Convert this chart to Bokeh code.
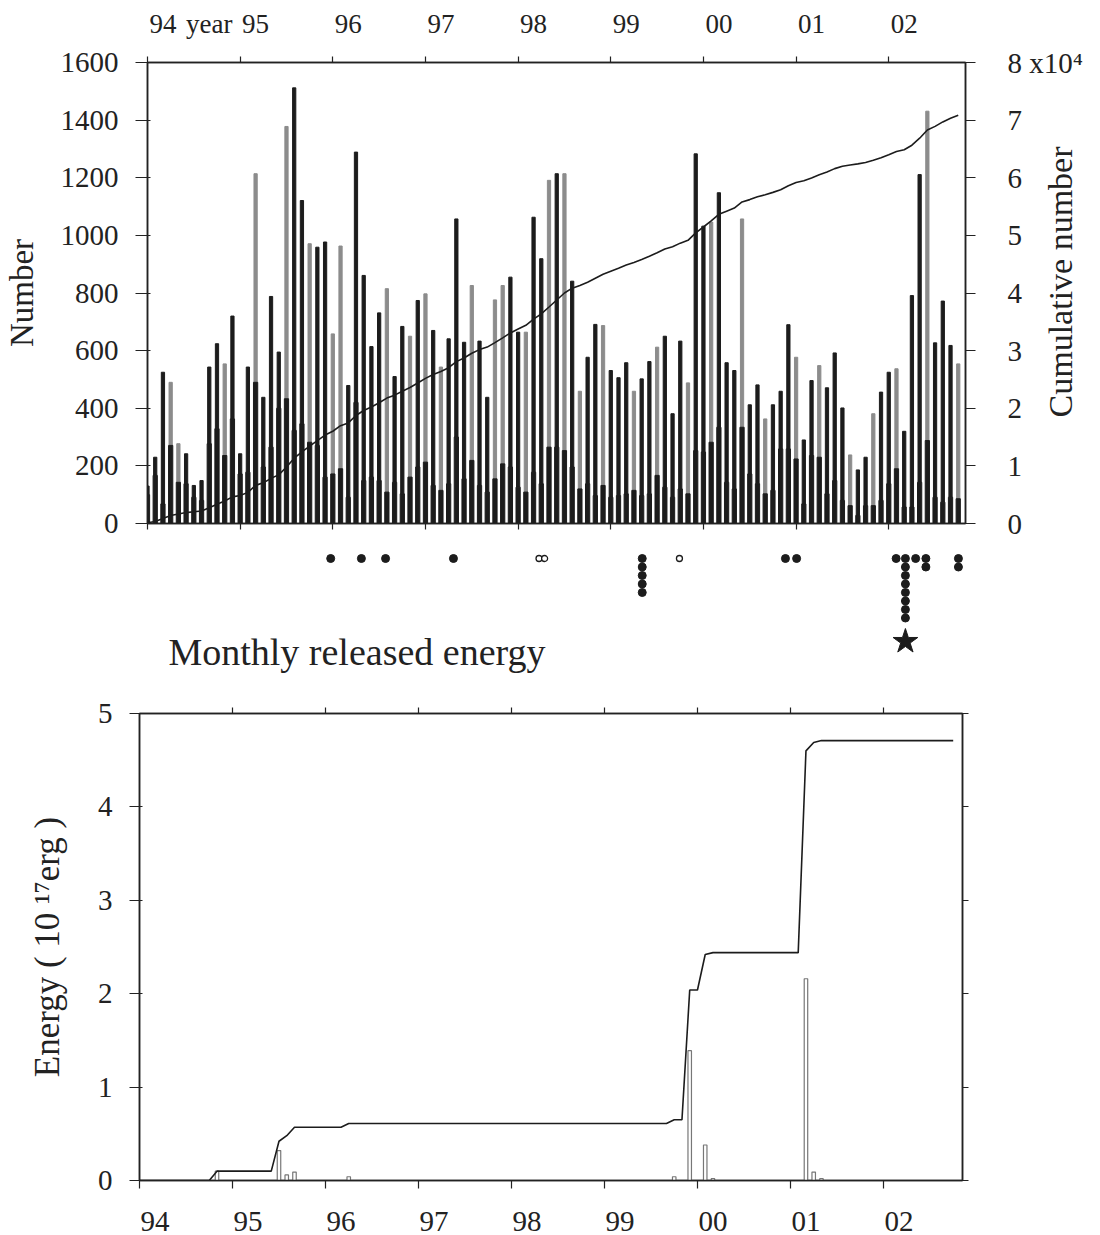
import numpy as np
from bokeh.plotting import figure
from bokeh.models import Range1d, LinearAxis, FixedTicker, ColumnDataSource
from bokeh.embed import file_html
from bokeh.resources import INLINE
from bokeh.core.properties import value

FONT = "Liberation Serif"

# ---------------- data ----------------
start_year = 1994
year_labels = ["94", "95", "96", "97", "98", "99", "00", "01", "02"]

# monthly number of events, Jan 1994 .. Oct 2002
monthly_total = [
    130, 230, 525, 490, 277, 242, 132, 149, 543, 624, 554, 720,
    242, 543, 1214, 438, 788, 595, 1378, 1512, 1121, 971, 959, 977,
    658, 963, 479, 1289, 861, 614, 731, 815, 510, 684, 650, 774,
    797, 670, 543, 641, 1057, 629, 826, 633, 438, 776, 826, 855,
    664, 664, 1063, 919, 1191, 1214, 1214, 841, 459, 577, 691, 687,
    531, 506, 558, 459, 502, 562, 612, 650, 381, 633, 488, 1283,
    1032, 1046, 1148, 558, 531, 1057, 412, 481, 363, 412, 459, 690,
    577, 290, 496, 548, 471, 592, 401, 238, 186, 230, 381, 456,
    525, 537, 320, 791, 1211, 1431, 627, 772, 618, 554,
]
# lower (dark) part of each monthly bar
monthly_low = [
    100, 167, 68, 271, 143, 138, 91, 80, 277, 329, 236, 363,
    172, 178, 490, 196, 265, 400, 433, 323, 346, 282, 271, 161,
    172, 190, 91, 420, 149, 161, 149, 109, 143, 103, 161, 196,
    213, 132, 115, 138, 300, 155, 219, 132, 109, 155, 207, 196,
    126, 109, 178, 138, 265, 265, 253, 196, 120, 138, 97, 132,
    91, 97, 103, 115, 97, 103, 167, 126, 91, 120, 103, 253,
    248, 282, 334, 143, 120, 334, 172, 138, 103, 115, 259, 259,
    224, 68, 236, 230, 103, 149, 80, 62, 28, 62, 62, 80,
    138, 190, 57, 57, 143, 288, 91, 74, 91, 86,
]
# 1 = upper part of the bar printed grey, 0 = black
upper_grey = [
    0, 0, 0, 1, 1, 0, 0, 0, 0, 0, 1, 0,
    0, 0, 1, 0, 0, 0, 1, 0, 0, 1, 0, 0,
    1, 1, 0, 0, 0, 0, 0, 1, 0, 0, 1, 0,
    1, 0, 1, 0, 0, 0, 1, 0, 0, 1, 1, 0,
    0, 1, 0, 0, 1, 0, 1, 0, 1, 0, 0, 1,
    0, 0, 0, 1, 0, 0, 1, 0, 0, 0, 1, 0,
    0, 1, 0, 0, 0, 1, 0, 0, 1, 0, 0, 0,
    1, 0, 0, 1, 0, 0, 0, 1, 0, 0, 1, 0,
    0, 1, 0, 0, 0, 1, 0, 0, 0, 1,
]
# monthly released energy (10^17 erg)
monthly_energy = [0.0] * 106
for m, e in {10: 0.10, 18: 0.32, 19: 0.06, 20: 0.09, 27: 0.04, 69: 0.04,
             71: 1.39, 73: 0.38, 74: 0.02, 86: 2.16, 87: 0.09, 88: 0.02}.items():
    monthly_energy[m] = e

# larger events marked below the upper panel (decimal year, count, filled)
event_year = [1995.97, 1996.30, 1996.56, 1997.29, 1998.21, 1998.27, 1999.32, 1999.72,
              2000.86, 2000.98, 2002.05, 2002.15, 2002.26, 2002.37, 2002.72]
event_count = [1, 1, 1, 1, 1, 1, 5, 1, 1, 1, 1, 8, 1, 2, 2]
event_filled = [1, 1, 1, 1, 0, 0, 1, 0, 1, 1, 1, 1, 1, 1, 1]
main_shock_year = 2002.15

# ---------------- derived ----------------
n = len(monthly_total)
mx = np.arange(n)
cum_number = np.cumsum(monthly_total)
cum_energy = np.cumsum(monthly_energy)
BLACK = "#1c1c1c"
GREY = "#8c8c8c"
TXT = "#222222"
src = ColumnDataSource(dict(
    x=mx, total=monthly_total, low=monthly_low,
    ucol=[GREY if g else BLACK for g in upper_grey],
))


def style_axis(ax, size="29px"):
    ax.major_label_text_font = FONT
    ax.major_label_text_font_size = size
    ax.major_label_text_color = TXT
    ax.axis_label_text_font = FONT
    ax.axis_label_text_font_style = "normal"
    ax.axis_label_text_font_size = "33px"
    ax.axis_label_text_color = TXT
    ax.axis_line_color = TXT
    ax.axis_line_width = 1.5
    ax.major_tick_line_color = TXT
    ax.minor_tick_line_color = TXT
    ax.major_tick_line_width = 1.2
    ax.minor_tick_line_width = 1.2


def tick_only_axis(ticks, out, **kw):
    ax = LinearAxis(ticker=FixedTicker(ticks=ticks),
                    major_label_overrides={t: "" for t in ticks}, **kw)
    style_axis(ax)
    ax.major_tick_in = 0
    ax.major_tick_out = out
    ax.major_label_standoff = 0
    return ax


year_ticks = [12 * k for k in range(9)]
label_ticks = [12 * k + 2 for k in range(9)]

# ---------------- upper panel ----------------
TOP_H = 543
top = figure(width=1100, height=TOP_H, output_backend="svg", toolbar_location=None,
             x_range=Range1d(0, 105.94), y_range=Range1d(0, 1600),
             x_axis_location=None, y_axis_location=None,
             min_border_left=147, min_border_right=132, min_border_top=62, min_border_bottom=20)
top.extra_y_ranges = {"cum": Range1d(0, 80000)}
top.grid.grid_line_color = None
top.outline_line_color = TXT
top.outline_line_width = 1.5

top.vbar(x="x", bottom="low", top="total", width=0.42, color="ucol", source=src)
top.vbar(x="x", bottom=0, top="low", width=0.55, color=BLACK, source=src)
top.line(mx, cum_number, y_range_name="cum", line_color=BLACK, line_width=1.6)

yl = LinearAxis(ticker=FixedTicker(ticks=list(range(0, 1601, 200))), axis_label="Number")
style_axis(yl)
yl.major_tick_in = 3
yl.major_tick_out = 12
yl.major_label_standoff = 17
yl.axis_label_standoff = 18
top.add_layout(yl, "left")

cum_over = {k * 10000: str(k) for k in range(9)}
cum_over[80000] = "8 x10⁴"
yr = LinearAxis(y_range_name="cum", ticker=FixedTicker(ticks=[k * 10000 for k in range(9)]),
                major_label_overrides=cum_over)
style_axis(yr)
yr.major_tick_in = 0
yr.major_tick_out = 10
yr.major_label_standoff = 32
top.add_layout(yr, "right")

# outer right axis carrying only the (upward reading) title; its text starts at the tick
title_start = 18400
yt = LinearAxis(y_range_name="cum", ticker=FixedTicker(ticks=[title_start]),
                major_label_overrides={title_start: "Cumulative number"},
                major_label_orientation=np.pi / 2)
style_axis(yt, "34px")
yt.axis_line_color = None
yt.major_tick_line_color = None
yt.major_tick_in = 0
yt.major_tick_out = 0
yt.major_label_standoff = -25
top.add_layout(yt, "right")

top_over = {t: lab for t, lab in zip(label_ticks, year_labels)}
top_over[8] = "year"
xa = LinearAxis(ticker=FixedTicker(ticks=label_ticks + [8], minor_ticks=year_ticks),
                major_label_overrides=top_over)
style_axis(xa, "27px")
xa.major_tick_line_color = None
xa.major_tick_in = 0
xa.major_tick_out = 0
xa.minor_tick_in = 0
xa.minor_tick_out = 6
xa.major_label_standoff = 18
top.add_layout(xa, "above")

top.add_layout(tick_only_axis(year_ticks, 6), "below")

# ---------------- middle strip (events) ----------------
MID_TOP, MID_BOT = TOP_H, 690
mid = figure(width=1100, height=MID_BOT - MID_TOP, output_backend="svg", toolbar_location=None,
             x_range=Range1d(0, 105.94), y_range=Range1d(MID_BOT, MID_TOP),
             x_axis_location=None, y_axis_location=None,
             min_border_left=147, min_border_right=132, min_border_top=0, min_border_bottom=0)
mid.grid.grid_line_color = None
mid.outline_line_color = None

fx, fy, ox, oy = [], [], [], []
for yr_, cnt, fil in zip(event_year, event_count, event_filled):
    mm = (yr_ - start_year) * 12
    for k in range(cnt):
        yy = 558 + k * 8.5
        if fil:
            fx.append(mm); fy.append(yy)
        else:
            ox.append(mm); oy.append(yy)
mid.scatter(fx, fy, marker="circle", size=8, color=BLACK)
mid.scatter(ox, oy, marker="circle", size=6, fill_color="white", line_color=BLACK, line_width=1.3)
mid.scatter([(main_shock_year - start_year) * 12], [641], marker="star", size=26, color=BLACK)
mid.text([2.7], [651], text=["Monthly released energy"], text_font=value(FONT),
         text_font_size="38px", text_baseline="middle", text_align="left", text_color=TXT)

# ---------------- lower panel ----------------
bot = figure(width=1100, height=1235 - MID_BOT, output_backend="svg", toolbar_location=None,
             x_range=Range1d(0, 106.2), y_range=Range1d(0, 5),
             x_axis_location=None, y_axis_location=None,
             min_border_left=139, min_border_right=138, min_border_top=23, min_border_bottom=55)
bot.grid.grid_line_color = None
bot.outline_line_color = TXT
bot.outline_line_width = 1.5

bot.vbar(x=mx, bottom=0, top=monthly_energy, width=0.45, fill_color="white",
         line_color="#777777", line_width=1.2)
bot.line(mx, cum_energy, line_color=BLACK, line_width=1.6)

el = LinearAxis(ticker=FixedTicker(ticks=[0, 1, 2, 3, 4, 5]), axis_label="Energy ( 10 ¹⁷erg )")
style_axis(el)
el.axis_label_text_font_size = "35px"
el.major_tick_in = 3
el.major_tick_out = 10
el.major_label_standoff = 17
el.axis_label_standoff = 28
bot.add_layout(el, "left")

bot.add_layout(tick_only_axis([0, 1, 2, 3, 4, 5], 6), "right")

bx = LinearAxis(ticker=FixedTicker(ticks=label_ticks, minor_ticks=year_ticks),
                major_label_overrides={t: lab for t, lab in zip(label_ticks, year_labels)})
style_axis(bx, "29px")
bx.major_tick_line_color = None
bx.major_tick_in = 0
bx.major_tick_out = 0
bx.minor_tick_in = 0
bx.minor_tick_out = 8
bx.major_label_standoff = 23
bot.add_layout(bx, "below")

bot.add_layout(tick_only_axis(year_ticks[1:], 6), "above")

open("out.html", "w").write(file_html([top, mid, bot], INLINE))
